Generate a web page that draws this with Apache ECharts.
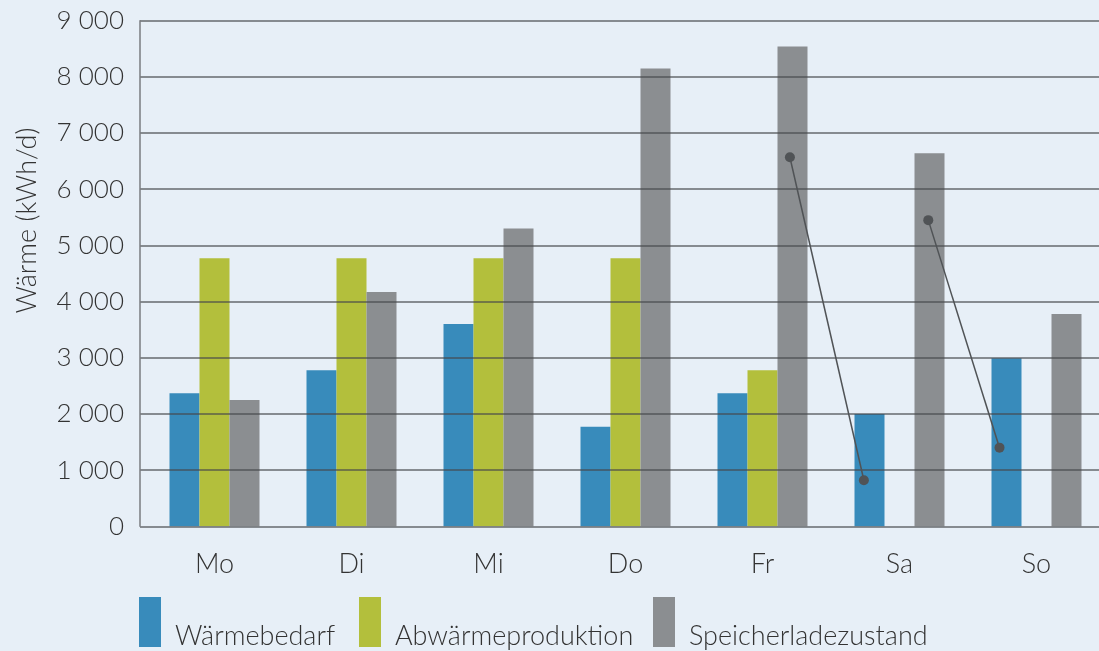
<!DOCTYPE html>
<html>
<head>
<meta charset="utf-8">
<script src="https://cdn.jsdelivr.net/npm/echarts@6/dist/echarts.min.js"></script>
<style>
html,body{margin:0;padding:0;background:#e7eff7;overflow:hidden;width:1099px;height:651px;}
#chart{width:1106px;height:651px;}
</style>
</head>
<body>
<div id="chart"></div>
<script>
const categories = ['Mo', 'Di', 'Mi', 'Do', 'Fr', 'Sa', 'So'];
const waermebedarf = [2370, 2780, 3600, 1770, 2370, 2000, 2990];
const abwaermeproduktion = [4770, 4770, 4770, 4770, 2780, null, null];
const speicherladezustand = [2250, 4170, 5300, 8150, 8540, 6640, 3780];
const seriesNames = ['Wärmebedarf', 'Abwärmeproduktion', 'Speicherladezustand'];
const yTicks = [0, 1000, 2000, 3000, 4000, 5000, 6000, 7000, 8000, 9000];
// annotation connectors: [category position (0..7), value]
const connectorA = [[4.70, 6570], [5.24, 820]];
const connectorB = [[5.71, 5450], [6.23, 1400]];

const FONT = 'Lato';
const colors = ['#388bbb', '#b3bf3c', '#8b8e91'];
const fmt = v => v >= 1000 ? Math.floor(v / 1000) + ' ' + String(v % 1000).padStart(3, '0') : String(v);

const chart = echarts.init(document.getElementById('chart'), null, {renderer: 'canvas'});
const legendPos = [139, 359, 653];
const option = {
  backgroundColor: '#e7eff7',
  animation: false,
  textStyle: {fontFamily: FONT},
  grid: [
    {left: 146, top: 20.7, width: 959, height: 505.6},
    {left: 140, top: 20.7, width: 959, height: 505.6}
  ],
  legend: seriesNames.map((n, i) => ({
    data: [n],
    left: legendPos[i],
    top: 593,
    icon: 'rect',
    itemWidth: 22,
    itemHeight: 50,
    itemGap: 0,
    padding: 0,
    selectedMode: false,
    formatter: name => '\n' + name,
    textStyle: {fontFamily: FONT, fontSize: 27, fontWeight: 300, color: '#333', lineHeight: 29, padding: [0, 0, 0, 9]}
  })),
  xAxis: [
    {
      type: 'category', gridIndex: 0, data: categories,
      axisLine: {show: false}, axisTick: {show: false},
      axisLabel: {fontFamily: FONT, fontSize: 27, fontWeight: 300, color: '#333', margin: 24}
    },
    {type: 'value', gridIndex: 0, min: 0, max: 7, show: false},
    {type: 'value', gridIndex: 1, min: 0, max: 1, show: false}
  ],
  yAxis: [
    {type: 'value', gridIndex: 0, min: 0, max: 9000, interval: 1000, show: false},
    {
      type: 'value', gridIndex: 1, min: 0, max: 9000, interval: 1000, z: 5,
      name: 'Wärme (kWh/d)', nameLocation: 'middle', nameGap: 99,
      nameTextStyle: {fontFamily: FONT, fontSize: 27, fontWeight: 300, color: '#333', padding: [0, 0, 0, 106]},
      axisLine: {show: true, lineStyle: {color: '#7a7d80', width: 1.5}},
      axisTick: {show: false},
      splitLine: {show: true, lineStyle: {color: 'rgba(70,72,75,0.8)', width: 1.5}},
      axisLabel: {fontFamily: FONT, fontSize: 26, fontWeight: 300, color: '#333', margin: 16,
        formatter: v => fmt(v)}
    }
  ],
  series: [
    {name: seriesNames[0], type: 'bar', xAxisIndex: 0, yAxisIndex: 0, data: waermebedarf,
     barWidth: 30, barGap: '0%', itemStyle: {color: colors[0]}},
    {name: seriesNames[1], type: 'bar', xAxisIndex: 0, yAxisIndex: 0, data: abwaermeproduktion,
     barWidth: 30, barGap: '0%', itemStyle: {color: colors[1]}},
    {name: seriesNames[2], type: 'bar', xAxisIndex: 0, yAxisIndex: 0, data: speicherladezustand,
     barWidth: 30, barGap: '0%', itemStyle: {color: colors[2]}},
    {type: 'line', xAxisIndex: 1, yAxisIndex: 0, data: connectorA, z: 10,
     symbol: 'circle', symbolSize: 10, lineStyle: {color: '#505356', width: 1.5}, itemStyle: {color: '#505356'}},
    {type: 'line', xAxisIndex: 1, yAxisIndex: 0, data: connectorB, z: 10,
     symbol: 'circle', symbolSize: 10, lineStyle: {color: '#505356', width: 1.5}, itemStyle: {color: '#505356'}}
  ]
};
chart.setOption(option);
</script>
</body>
</html>
